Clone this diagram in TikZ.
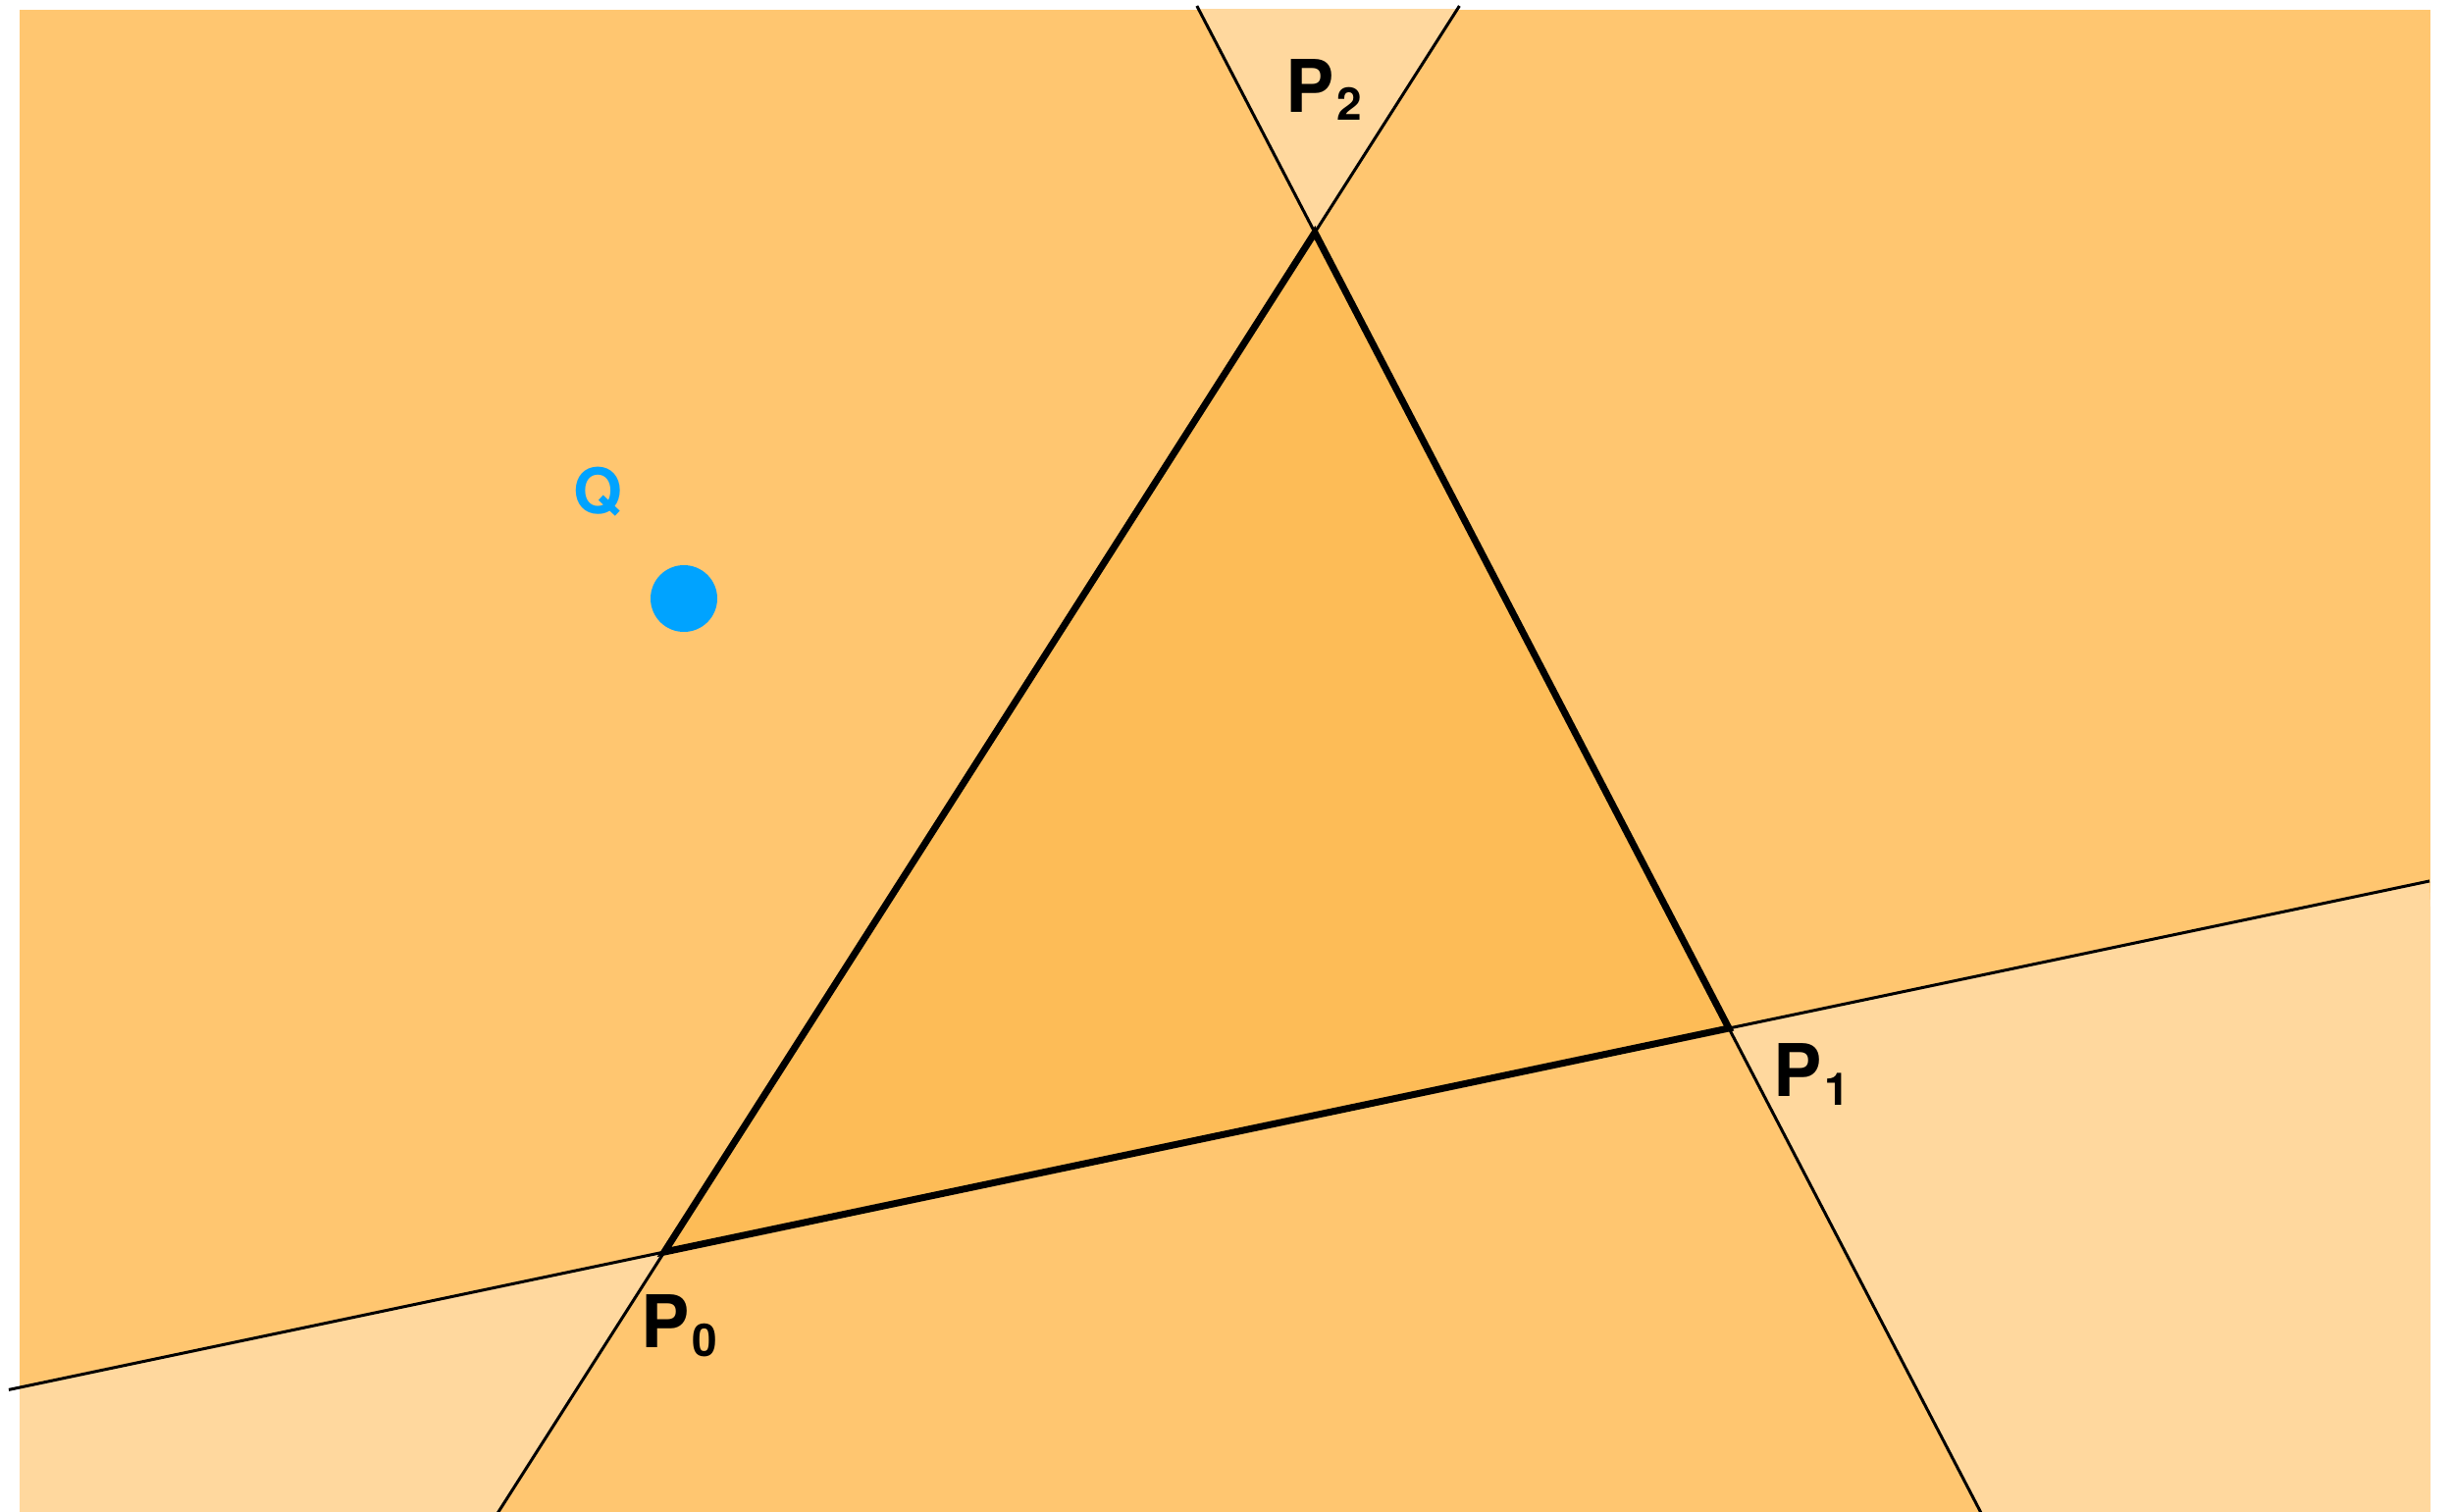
\documentclass[tikz,border=0pt]{standalone}
\usepackage{fontspec}
\setmainfont{TeX Gyre Heros}
\usetikzlibrary{calc}
\definecolor{midor}{HTML}{FFC670}
\definecolor{darkor}{HTML}{FDBC57}
\definecolor{lightor}{HTML}{FFD89E}
\definecolor{qblue}{HTML}{00A3FF}
\newcommand{\vsub}[2][9pt]{\hspace{3pt}\raisebox{-#1}{\fontsize{46}{46}\selectfont #2}}
\tikzset{
  thinline/.style={draw=black, line width=3pt},
  edgeline/.style={draw=black, line width=7pt},
  lbl/.style={inner sep=0pt, anchor=base west, font=\bfseries\fontsize{74}{80}\selectfont, text=black},
  qlbl/.style={inner sep=0pt, anchor=base west, font=\bfseries\fontsize{64}{70}\selectfont, text=qblue},
}
\begin{document}
\begin{tikzpicture}[x=1pt,y=-1pt]
\useasboundingbox (0,0) rectangle (2500,1541);
% vertices
\coordinate (p0) at (677,1276);
\coordinate (p1) at (1762,1048);
\coordinate (p2) at (1340,237);
% extended line ends
\coordinate (a12) at ($(p2)!-0.2848!(p1)$);
\coordinate (b12) at ($(p2)!1.6180!(p1)$);
\coordinate (a02) at ($(p0)!1.2223!(p2)$);
\coordinate (b02) at ($(p0)!-0.2589!(p2)$);
\coordinate (a01) at ($(p0)!-0.6157!(p1)$);
\coordinate (b01) at ($(p0)!1.6581!(p1)$);
% background
\fill[midor] (20,10) rectangle (2477,1541);
\begin{scope}
  \clip (20,10) rectangle (2477,1541);
  \fill[lightor] (p2) -- (a12) -- (a02) -- cycle;
  \fill[lightor] (p0) -- (a01) -- (0,1560) -- (b02) -- cycle;
  \fill[lightor] (p1) -- (b01) -- (2500,1560) -- (b12) -- cycle;
\end{scope}
\fill[darkor] (p0) -- (p1) -- (p2) -- cycle;
% thin extended lines
\draw[thinline] (a12) -- (b12);
\draw[thinline] (a02) -- (b02);
\draw[thinline] (a01) -- (b01);
% triangle edges
\draw[edgeline] (p0) -- (p1) -- (p2) -- cycle;
% point Q
\node[circle, fill=qblue, minimum size=68pt, inner sep=0pt] (q) at (697,610) {};
\node[qlbl] (qlabel) at (584,523) {Q};
% labels
\node[lbl] (l2) at (1310,115) {P\vsub[8pt]{2}};
\node[lbl] (l0) at (653,1373) {P\vsub{0}};
\node[lbl] (l1) at (1807,1117) {P\vsub{1}};
\end{tikzpicture}
\end{document}
